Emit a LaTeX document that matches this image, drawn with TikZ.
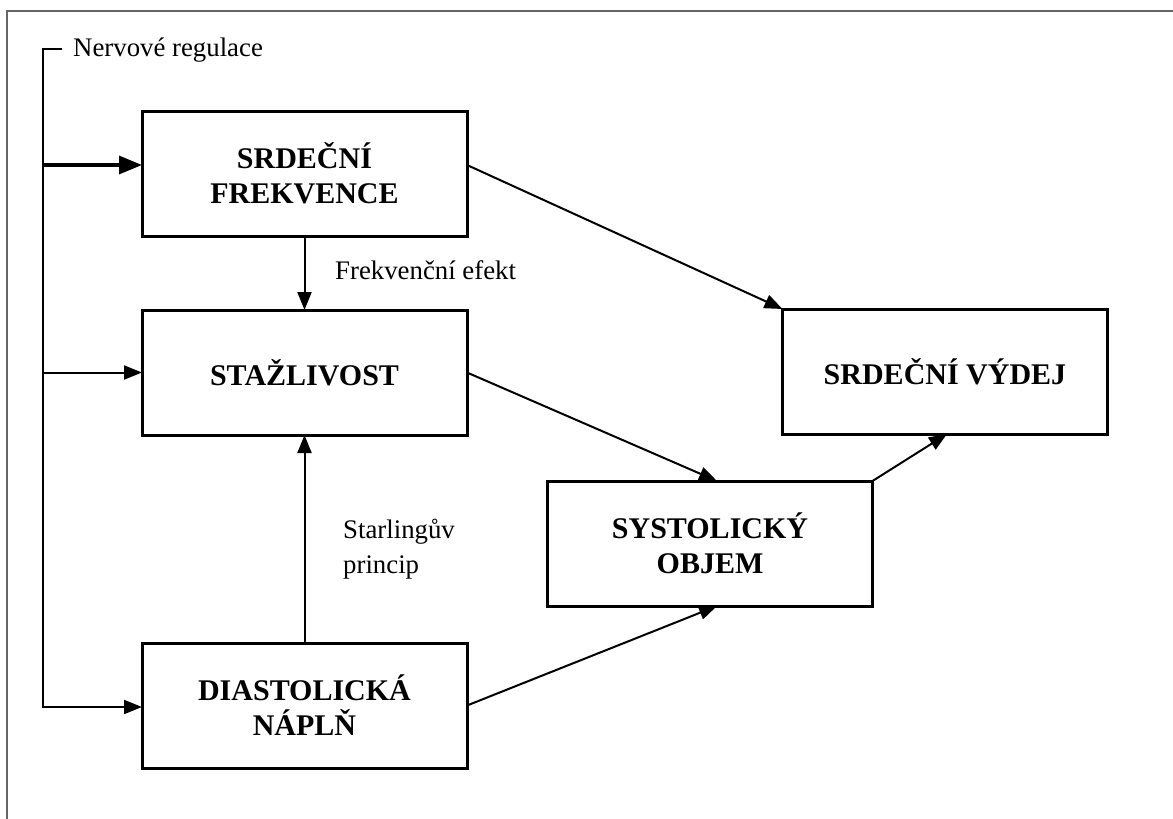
\documentclass[tikz,border=0pt]{standalone}
\usepackage{fontspec}
\setmainfont{Liberation Serif}
\usetikzlibrary{arrows.meta,calc}
\begin{document}
\begin{tikzpicture}[x=1pt,y=-1pt,
  box/.style={draw,line width=3pt,minimum width=325pt,minimum height=125pt,inner sep=0pt,outer sep=0pt,align=center,font=\fontsize{30}{35}\selectfont\bfseries},
  conn/.style={line width=2pt,-{Triangle[length=18pt,width=14pt]}},
  thickconn/.style={line width=3.2pt,-{Triangle[length=23pt,width=18pt]}},
  lbl/.style={inner sep=0pt,anchor=west,align=left,font=\fontsize{26.8}{35}\selectfont},
  frame/.style={draw=black!60,line width=1.5pt}]
\useasboundingbox (0,0) rectangle (1173,819);
\draw[frame] (7,819) -- (7,11) -- (1173,11);

\node[box] (frek) at (304.5,173.5) {SRDEČNÍ\\FREKVENCE};
\node[box] (staz) at (304.5,372.5) {STAŽLIVOST};
\node[box] (vydej) at (945,371.5) {SRDEČNÍ VÝDEJ};
\node[box] (syst) at (710,543.5) {SYSTOLICKÝ\\OBJEM};
\node[box] (diast) at (304.5,705.5) {DIASTOLICKÁ\\NÁPLŇ};

\coordinate (ltop) at (43,49);
\coordinate (ltick) at (61,49);
\coordinate (lbot) at (43,707);
\node[lbl] (nerv) at (73,50) {Nervové regulace};
\node[lbl] (frekef) at (335,270) {Frekvenční efekt};
\node[lbl] (starl) at (343,549) {Starlingův\\princip};

\draw[line width=2pt,line cap=rect] (ltick) -- (ltop) -- (lbot);
\draw[thickconn] (ltop |- 0,165) -- (frek.west |- 0,165);
\draw[conn] (ltop |- staz.west) -- (staz.west);
\draw[conn] (lbot) -- (diast.west |- lbot);

\draw[conn] (frek.south) -- (staz.north);
\draw[conn] (diast.north) -- (staz.south);
\draw[conn] ($(frek.east)+(0,-8.5)$) -- (vydej.north west);
\draw[conn] (staz.east) -- ($(syst.north)+(7,0)$);
\draw[conn] (diast.east) -- ($(syst.south)+(7,0)$);
\draw[conn] (syst.north east) -- ($(vydej.south)+(2,0)$);
\end{tikzpicture}
\end{document}
